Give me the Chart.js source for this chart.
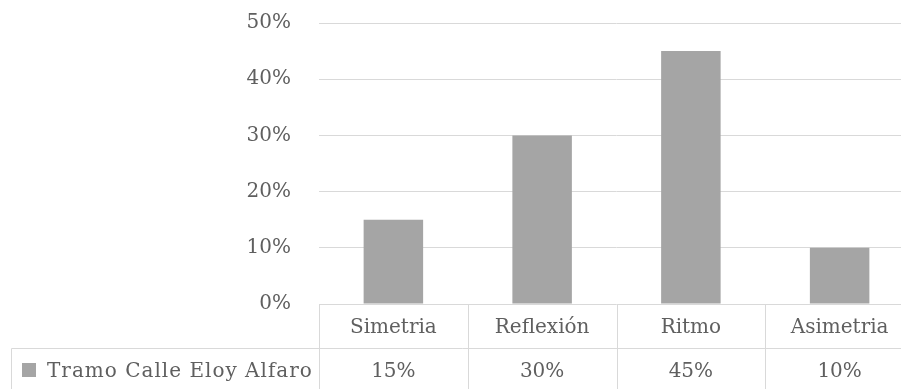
<!DOCTYPE html>
<html>
<head>
<meta charset="utf-8">
<script src="https://cdn.jsdelivr.net/npm/chart.js@4.4.1/dist/chart.umd.min.js"></script>
<style>
    html, body { margin: 0; padding: 0; background: #fff; overflow: hidden; }
    #wrap { width: 916px; height: 389px; }
</style>
</head>
<body>
<div id="wrap"><canvas id="chart" width="916" height="389"></canvas></div>
<script>
const categories = ['Simetria', 'Reflexión', 'Ritmo', 'Asimetria'];
const seriesName = 'Tramo Calle Eloy Alfaro';
const seriesValues = [15, 30, 45, 10];
const yTicks = [0, 10, 20, 30, 40, 50];

const GRID = '#d9d9d9';
const BAR = '#a5a5a5';
const TEXT = '#5f5f5f';
const FONT = '"DejaVu Serif", serif';

// draws the data table under the plot (category row + value row)
const dataTable = {
    id: 'dataTable',
    afterDraw(chart) {
        const ctx = chart.ctx;
        const x = chart.scales.x;
        const area = chart.chartArea;
        const bottom = chart.height;
        const colW = (area.right - area.left) / categories.length;
        const rowSplit = area.bottom + 44;

        ctx.save();
        ctx.strokeStyle = GRID;
        ctx.lineWidth = 1;
        ctx.beginPath();
        for (let i = 0; i <= categories.length; i++) {
            const px = Math.round(area.left + colW * i) + 0.5;
            ctx.moveTo(px, area.bottom);
            ctx.lineTo(px, bottom);
        }
        ctx.moveTo(11.5, rowSplit + 0.5);
        ctx.lineTo(area.right, rowSplit + 0.5);
        ctx.moveTo(11.5, rowSplit + 0.5);
        ctx.lineTo(11.5, bottom);
        ctx.stroke();

        ctx.fillStyle = TEXT;
        ctx.font = '20px ' + FONT;
        ctx.textAlign = 'center';
        ctx.textBaseline = 'middle';
        categories.forEach((c, i) => {
            ctx.fillText(c, x.getPixelForValue(i), area.bottom + 23.5);
            ctx.fillText(seriesValues[i] + '%', x.getPixelForValue(i), rowSplit + 24);
        });

        ctx.fillStyle = BAR;
        ctx.fillRect(22, 363, 14, 14);
        ctx.fillStyle = TEXT;
        ctx.textAlign = 'left';
        ctx.letterSpacing = '1px';
        ctx.fillText(seriesName, 47, rowSplit + 24);
        ctx.restore();
    }
};

Chart.defaults.font.family = FONT;
Chart.defaults.font.size = 20;
Chart.defaults.color = TEXT;

new Chart(document.getElementById('chart'), {
    type: 'bar',
    data: {
        labels: categories,
        datasets: [{
            label: seriesName,
            data: seriesValues,
            backgroundColor: BAR,
            borderWidth: 0,
            barPercentage: 0.4,
            categoryPercentage: 1
        }]
    },
    options: {
        responsive: false,
        animation: false,
        layout: { padding: { top: 23, bottom: 85, left: 0, right: 2 } },
        plugins: {
            legend: { display: false },
            tooltip: { enabled: false }
        },
        scales: {
            x: { display: false },
            y: {
                min: yTicks[0],
                max: yTicks[yTicks.length - 1],
                afterFit: (s) => {
                    s.width = 319;
                    // tick padding would otherwise push the plot top down
                    s.paddingTop = 0;
                    s.paddingBottom = 0;
                },
                afterBuildTicks: (s) => { s.ticks = yTicks.map((v) => ({ value: v })); },
                ticks: {
                    padding: 28,
                    callback: (v) => v + '%'
                },
                grid: { color: GRID, drawTicks: false },
                border: { display: false }
            }
        }
    },
    plugins: [dataTable]
});
</script>
</body>
</html>
